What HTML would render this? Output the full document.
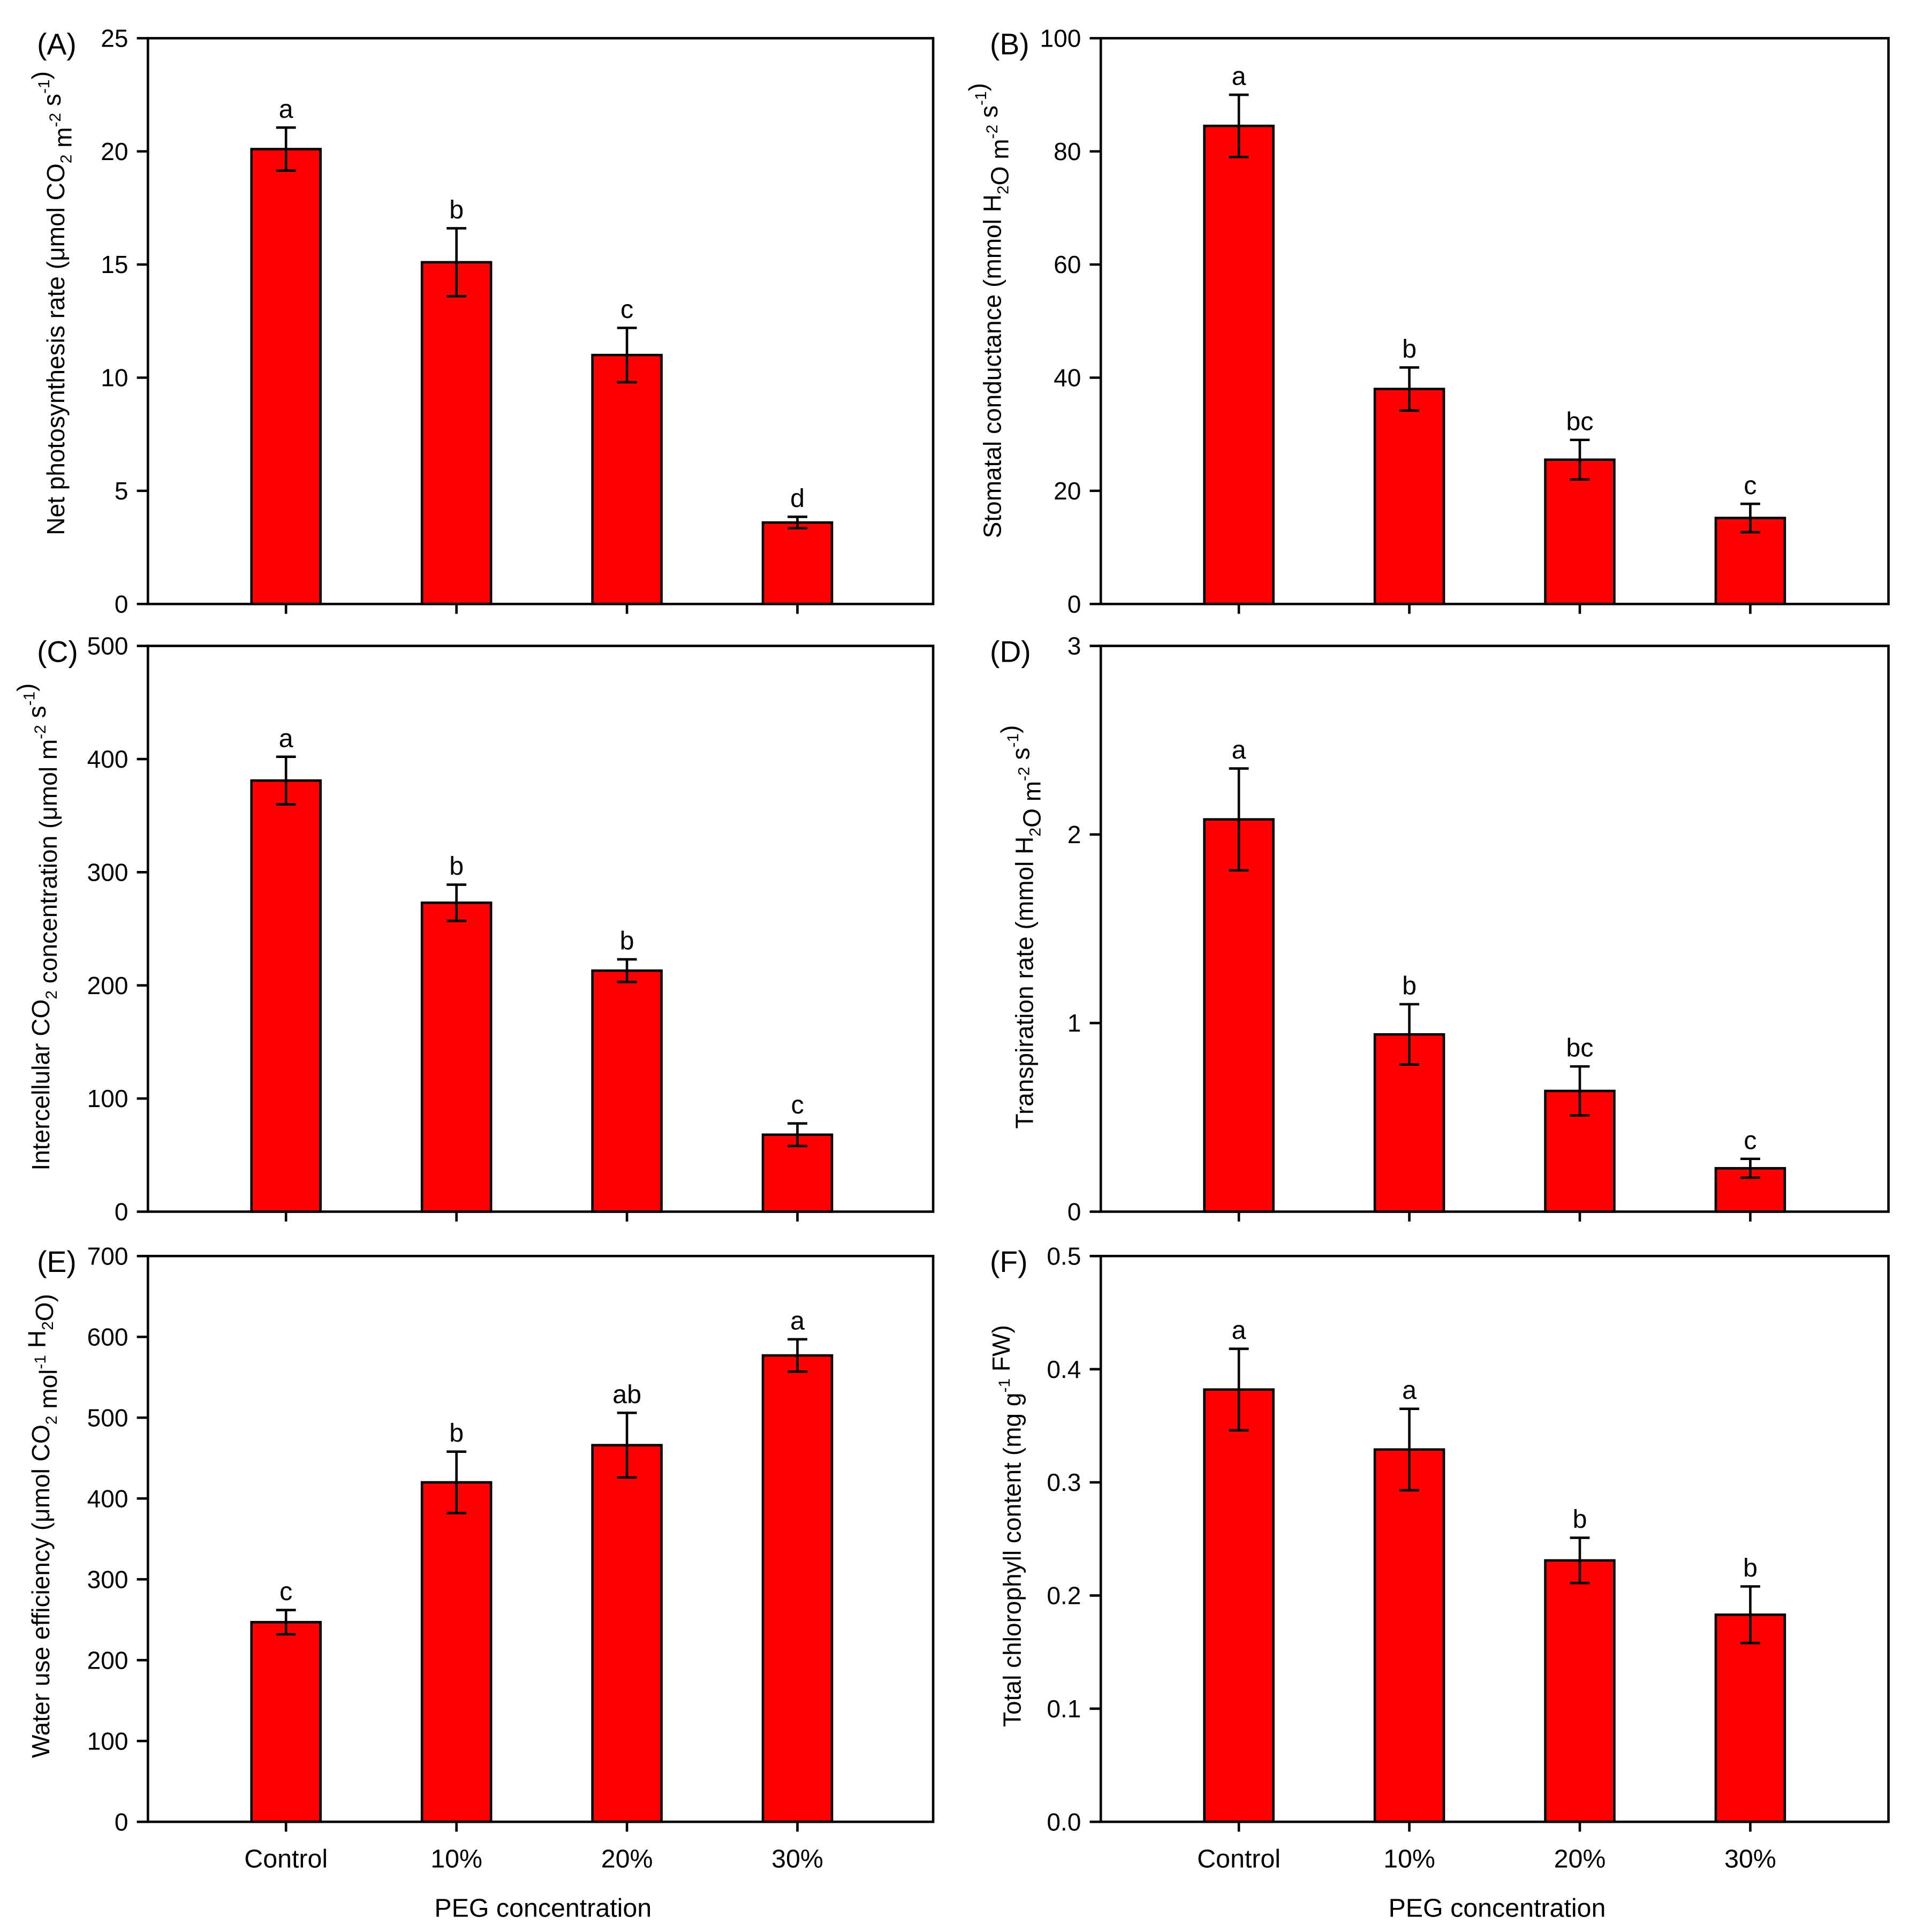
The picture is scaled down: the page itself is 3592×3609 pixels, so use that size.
<!DOCTYPE html>
<html><head><meta charset="utf-8">
<style>html,body{margin:0;padding:0;background:#fff}svg{display:block}text{font-family:"Liberation Sans",Arial,sans-serif;fill:#000}</style>
</head><body>
<svg id="fig" xmlns="http://www.w3.org/2000/svg" width="3592" height="3609" viewBox="0 0 1560 1567.4">
<rect width="1560" height="1567.4" fill="#fff"/>
</svg>
<script>
const categories = ["Control","10%","20%","30%"];
const valsA = [20.1, 15.1, 11.0, 3.6];
const errA = [0.95, 1.5, 1.2, 0.25];
const letA = ["a","b","c","d"];
const ticksA = ["0","5","10","15","20","25"];
const valsB = [84.5, 38, 25.5, 15.2];
const errB = [5.5, 3.8, 3.5, 2.5];
const letB = ["a","b","bc","c"];
const ticksB = ["0","20","40","60","80","100"];
const valsC = [381, 273, 213, 68];
const errC = [21, 16, 10, 10];
const letC = ["a","b","b","c"];
const ticksC = ["0","100","200","300","400","500"];
const valsD = [2.08, 0.94, 0.64, 0.23];
const errD = [0.27, 0.16, 0.13, 0.05];
const letD = ["a","b","bc","c"];
const ticksD = ["0","1","2","3"];
const valsE = [247, 420, 466, 577];
const errE = [15, 38, 40, 20];
const letE = ["c","b","ab","a"];
const ticksE = ["0","100","200","300","400","500","600","700"];
const valsF = [0.382, 0.329, 0.231, 0.183];
const errF = [0.036, 0.036, 0.02, 0.025];
const letF = ["a","a","b","b"];
const ticksF = ["0.0","0.1","0.2","0.3","0.4","0.5"];

const NS = "http://www.w3.org/2000/svg";
const svg = document.getElementById("fig");
function mk(tag, attrs, parent, txt){
  const e = document.createElementNS(NS, tag);
  for (const k in attrs) e.setAttribute(k, attrs[k]);
  if (txt !== undefined) e.textContent = txt;
  (parent || svg).appendChild(e);
  return e;
}

function panel(id, x0, x1, y0, y1, vals, errs, lets, ticks, titleHTML, titleX, titleY, label, showX){
  const g = mk("g", {});
  
  
  const max = parseFloat(ticks[ticks.length-1]);
  const ys = v => y1 - (v / max) * (y1 - y0);
  const step = 138.3;
  const xs = i => x0 + 112 + i * step;
  const bw = 56;
  vals.forEach((v, i) => {
    const r = mk("rect", {x: xs(i) - bw/2, y: ys(v), width: bw, height: y1 - ys(v), fill: "#ff0000", stroke: "#000", "stroke-width": 2}, g);
    
    
    const e = errs[i];
    const eg = mk("path", {d: `M${xs(i)},${ys(v+e)}V${ys(v-e)}M${xs(i)-8},${ys(v+e)}H${xs(i)+8}M${xs(i)-8},${ys(v-e)}H${xs(i)+8}`, stroke: "#000", "stroke-width": 2, fill: "none"}, g);
    
    
    const t = mk("text", {x: xs(i), y: ys(v+e) - 8, "font-size": 21, "text-anchor": "middle"}, g, lets[i]);
    
    
    const tk = mk("line", {x1: xs(i), x2: xs(i), y1: y1, y2: y1 + 8, stroke: "#000", "stroke-width": 2}, g);
    
    
    if (showX) {
      const xl = mk("text", {x: xs(i), y: y1 + 37, "font-size": 21, "text-anchor": "middle"}, g, categories[i]);
      
      
    }
  });
  const fr = mk("rect", {x: x0, y: y0, width: x1 - x0, height: y1 - y0, fill: "none", stroke: "#000", "stroke-width": 2}, g);
  
  
  ticks.forEach(t => {
    const y = ys(parseFloat(t));
    const l = mk("line", {x1: x0 - 9, x2: x0, y1: y, y2: y, stroke: "#000", "stroke-width": 2}, g);
    
    
    const tt = mk("text", {x: x0 - 16, y: y + 7, "font-size": 20, "text-anchor": "end"}, g, t);
    
    
  });
  const lb = mk("text", {x: x0 - 90, y: y0 + 13, "font-size": 24}, g, label);
  
  
  const ti = mk("text", {transform: `translate(${titleX},${titleY}) rotate(-90)`, "font-size": 20, "text-anchor": "middle"}, g);
  ti.innerHTML = titleHTML;
  
  
  if (showX) {
    const xt = mk("text", {x: (x0 + x1)/2 + 2, y: 1555, "font-size": 21, "text-anchor": "middle"}, g, "PEG concentration");
    
    
  }
}
const sub = s => `<tspan font-size="13" dy="6">${s}</tspan><tspan dy="-6"></tspan>`;
const sup = s => `<tspan font-size="13" dy="-9">${s}</tspan><tspan dy="9"></tspan>`;

panel("A", 120, 757, 31, 490, valsA, errA, letA, ticksA,
  `Net photosynthesis rate (μmol CO${sub("2")} m${sup("-2")} s${sup("-1")})`, 52, 246, "(A)", false);
panel("B", 893, 1532, 31, 490, valsB, errB, letB, ticksB,
  `Stomatal conductance (mmol H${sub("2")}O m${sup("-2")} s${sup("-1")})`, 812, 252, "(B)", false);
panel("C", 120, 757, 524, 983, valsC, errC, letC, ticksC,
  `Intercellular CO${sub("2")} concentration (μmol  m${sup("-2")} s${sup("-1")})`, 40, 752, "(C)", false);
panel("D", 893, 1532, 524, 983, valsD, errD, letD, ticksD,
  `Transpiration rate (mmol H${sub("2")}O m${sup("-2")} s${sup("-1")})`, 838, 752, "(D)", false);
panel("E", 120, 757, 1019, 1478, valsE, errE, letE, ticksE,
  `Water use efficiency (μmol  CO${sub("2")} mol${sup("-1")} H${sub("2")}O)`, 40, 1238, "(E)", true);
panel("F", 893, 1532, 1019, 1478, valsF, errF, letF, ticksF,
  `Total chlorophyll content  (mg g${sup("-1")} FW)`, 828, 1238, "(F)", true);
</script>
</body></html>
